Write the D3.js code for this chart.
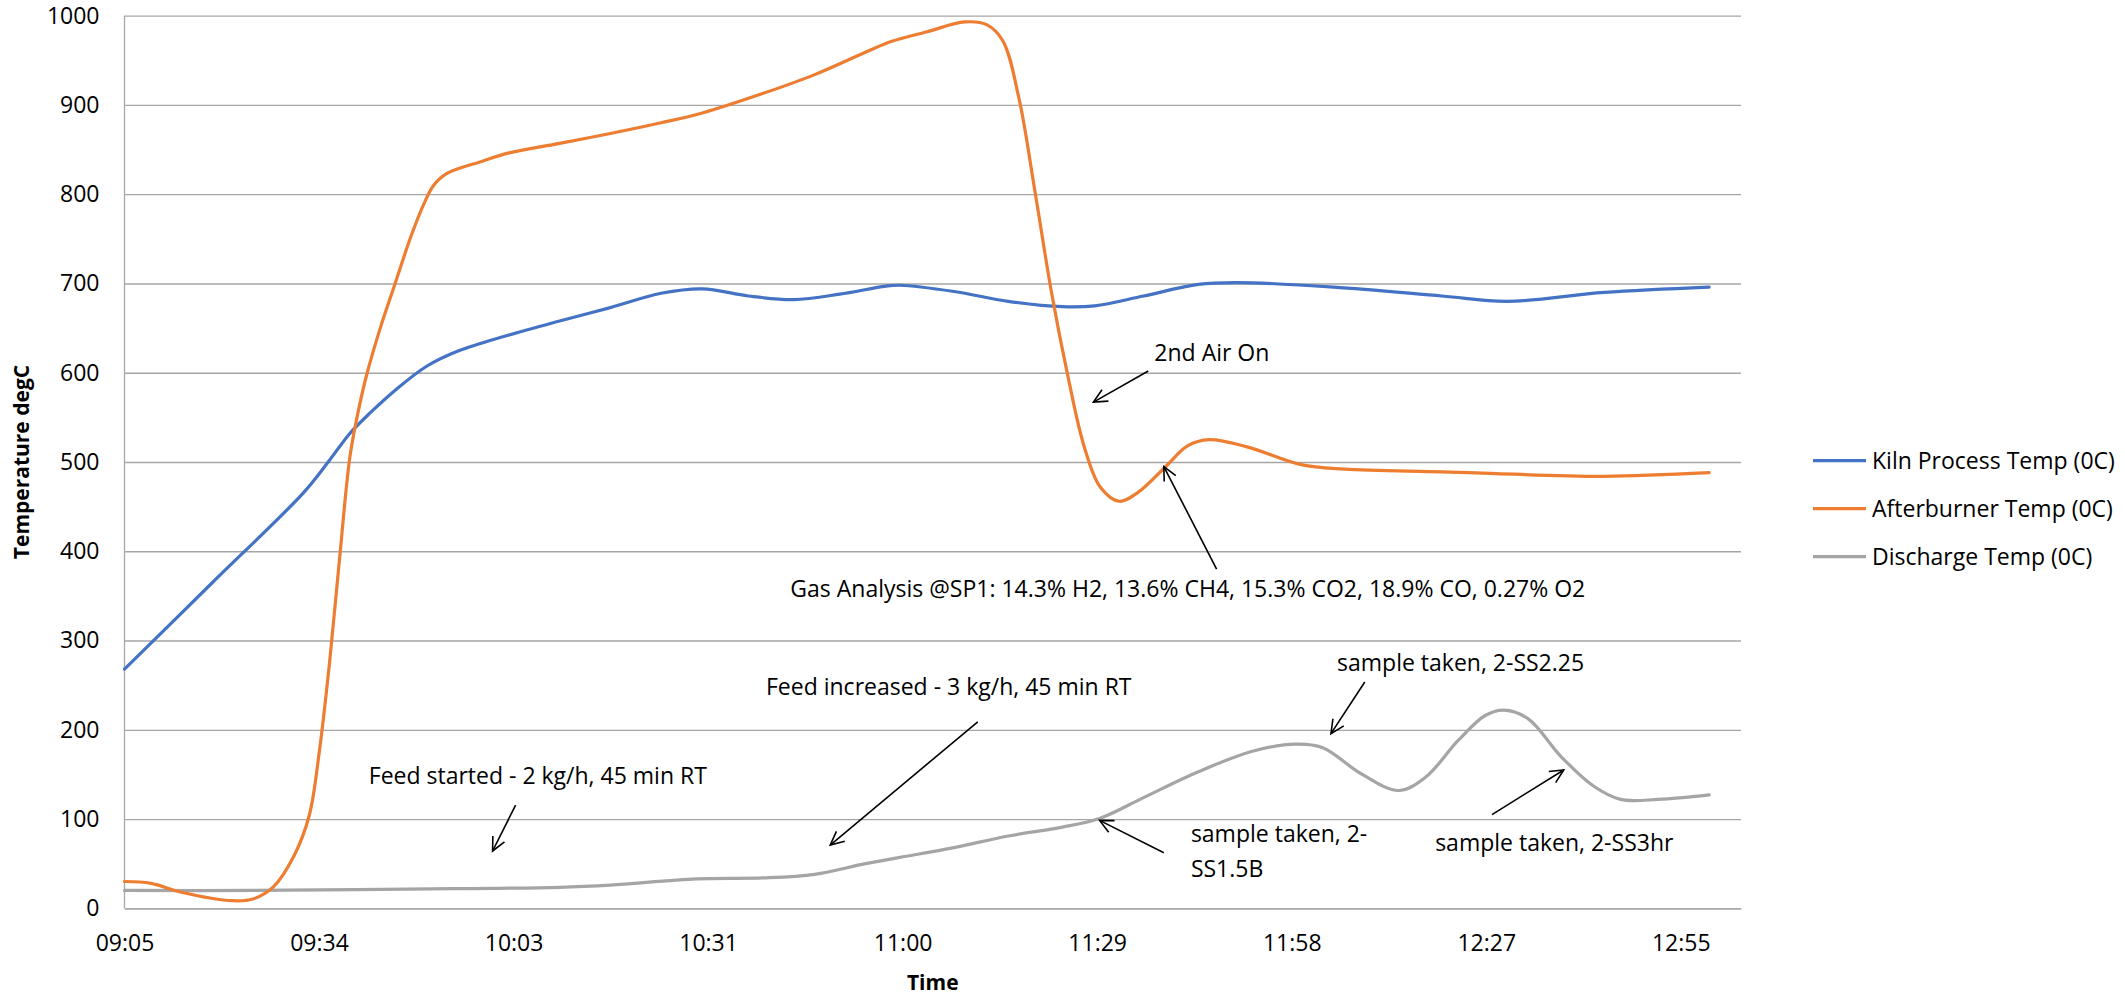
<!DOCTYPE html>
<html>
<head>
<meta charset="utf-8">
<script src="https://cdn.jsdelivr.net/npm/d3@7"></script>
<style>
  html, body { margin: 0; padding: 0; background: #fff; }
  svg { display: block; font-family: "Open Sans", "Noto Sans", sans-serif; }
</style>
</head>
<body>
<svg id="chart" width="2125" height="996"></svg>
<script>
// Elapsed minutes after 09:05 for each reading, and the temperature (degC)
const kilnMinutes = [0, 13, 26.5, 30.3, 33.3, 36.3, 40.1, 44.6, 49.2, 56.7, 64.3, 71.8, 79.3, 85.4, 92.2, 98.9, 105.7, 112.5, 114.6, 122.6, 130.6, 138.6, 143.4, 150.6, 158.7, 164.3, 178.7, 194.7, 204.3, 218.7, 234.2];
const kilnTemp    = [268, 365, 466, 502, 532, 555, 581, 607, 624, 642, 658, 673, 689, 694, 686, 682, 688, 697, 698, 691, 680, 674, 675, 686, 699, 701, 696, 686, 680, 690, 696];

const afterburnerMinutes = [0, 3.9, 8.4, 16, 19, 22, 25, 27.3, 28.8, 30.3, 31.8, 33.3, 34.5, 35.8, 37.8, 40, 42.3, 44.3, 45.7, 47.6, 52.9, 56.7, 64.3, 71.8, 79.3, 85.4, 94.4, 102, 109.5, 113.3, 118.6, 124.2, 127.4, 129.8, 132.2, 134.6, 137, 139.4, 141.8, 144.2, 147, 149.8, 153.9, 157.1, 160.3, 165.9, 173.9, 180.3, 194.7, 202.7, 218.7, 234.2];
const afterburnerTemp    = [30, 28, 18, 8.5, 10.5, 24, 58, 104, 176, 275, 393, 505, 555, 598, 650, 700, 752, 790, 810, 823, 837, 846, 857, 868, 880, 891, 913, 934, 959, 971, 982, 993, 990, 972, 907, 801, 690, 597, 518, 472, 456, 466, 495, 518, 525, 517, 497, 492, 489, 487, 484, 488];

const dischargeMinutes = [0, 19, 41.6, 64.3, 71.8, 84.6, 94.4, 102, 109.5, 114.6, 122.6, 130.6, 138.6, 144.2, 150.6, 158.7, 166.7, 173.1, 177.1, 182.7, 188.3, 192.3, 197.1, 201.1, 203.9, 207.5, 212.3, 217.1, 221.1, 226.7, 234.2];
const dischargeTemp    = [20, 20, 21.5, 23.5, 26, 33, 34, 38, 50, 57, 68, 81, 91, 101, 124, 153, 176, 184, 180, 151, 132, 147, 188, 216, 222, 212, 170, 137, 122, 122, 127];

const seriesNames  = ["Kiln Process Temp (0C)", "Afterburner Temp (0C)", "Discharge Temp (0C)"];
const seriesColors = ["#4472C4", "#ED7D31", "#A5A5A5"];

// Category labels on the time axis (one label every 28.75 minutes of run time)
const timeLabels = ["09:05", "09:34", "10:03", "10:31", "11:00", "11:29", "11:58", "12:27", "12:55"];
const labelStep = 28.75;
const axisEndMinutes = 238.9;

const tempTicks = [0, 100, 200, 300, 400, 500, 600, 700, 800, 900, 1000];

// Notes placed on the chart, in (minutes, degC) coordinates
const noteTexts = [
  ["2nd Air On"],
  ["Gas Analysis @SP1: 14.3% H2, 13.6% CH4, 15.3% CO2, 18.9% CO, 0.27% O2"],
  ["sample taken, 2-SS2.25"],
  ["sample taken, 2-", "SS1.5B"],
  ["sample taken, 2-SS3hr"],
  ["Feed increased - 3 kg/h, 45 min RT"],
  ["Feed started - 2 kg/h, 45 min RT"]
];
const noteAnchor = [[152.2, 613.2], [98.4, 348.3], [179.2, 266.1], [157.6, 74.3], [193.7, 64.2], [94.8, 238.5], [36.1, 139.8]];
const arrowFrom  = [[151.3, 602], [161.4, 380.1], [183.3, 253.5], [153.6, 62.3], [202.1, 105], [126.1, 208.9], [57.8, 115.5]];
const arrowTo    = [[143.2, 567.1], [153.6, 494.9], [178.3, 195.7], [144.1, 98.5], [212.7, 155], [104.3, 70.9], [54.4, 64.2]];

// ---- layout ----
const plot = { left: 124.5, right: 1741, top: 15.7, bottom: 908.3 };
const svg = d3.select("#chart");
svg.append("rect").attr("width", 2125).attr("height", 996).attr("fill", "#fff");

const x = d3.scaleLinear().domain([0, axisEndMinutes]).range([plot.left, plot.right]);
const y = d3.scaleLinear().domain([0, 1000]).range([plot.bottom, plot.top]);

const gridColor = "#a6a6a6";
const fontSize = 23;

// horizontal gridlines + value labels
const yAxis = svg.append("g")
  .attr("transform", `translate(${plot.left},0)`)
  .call(d3.axisLeft(y).tickValues(tempTicks).tickSize(-(plot.right - plot.left)).tickPadding(25).tickFormat(d3.format("d")));
yAxis.select(".domain").remove();
yAxis.selectAll(".tick line").attr("stroke", gridColor).attr("stroke-width", 1.3);
yAxis.selectAll(".tick text").attr("font-size", fontSize).attr("fill", "#000").attr("font-family", "'Open Sans', sans-serif");

// vertical axis line
svg.append("line")
  .attr("x1", plot.left).attr("x2", plot.left)
  .attr("y1", plot.top).attr("y2", plot.bottom)
  .attr("stroke", gridColor).attr("stroke-width", 1.3);

// time axis
const xAxis = svg.append("g")
  .attr("transform", `translate(0,${plot.bottom})`)
  .call(d3.axisBottom(x)
    .tickValues(timeLabels.map((_, i) => i * labelStep))
    .tickSize(0).tickPadding(26)
    .tickFormat((d, i) => timeLabels[i]));
xAxis.select(".domain").attr("stroke", gridColor).attr("stroke-width", 1.3);
xAxis.selectAll(".tick text").attr("font-size", fontSize).attr("fill", "#000").attr("font-family", "'Open Sans', sans-serif");

// axis titles
svg.append("text")
  .attr("x", (plot.left + plot.right) / 2).attr("y", 990)
  .attr("text-anchor", "middle").attr("font-size", 21).attr("font-weight", "bold")
  .text("Time");
svg.append("text")
  .attr("transform", `translate(29,${(plot.top + plot.bottom) / 2}) rotate(-90)`)
  .attr("text-anchor", "middle").attr("font-size", 21).attr("font-weight", "bold")
  .text("Temperature degC");

// series lines, smoothed
const series = [
  { t: kilnMinutes, v: kilnTemp },
  { t: afterburnerMinutes, v: afterburnerTemp },
  { t: dischargeMinutes, v: dischargeTemp }
];
const line = d3.line()
  .x(d => x(d[0]))
  .y(d => y(d[1]))
  .curve(d3.curveCatmullRom.alpha(0.5));

// draw grey first so blue and orange sit on top
[2, 0, 1].forEach(i => {
  const pts = series[i].t.map((t, k) => [t, series[i].v[k]]);
  svg.append("path")
    .attr("d", line(pts))
    .attr("fill", "none")
    .attr("stroke", seriesColors[i])
    .attr("stroke-width", 3.2)
    .attr("stroke-linejoin", "round")
    .attr("stroke-linecap", "round");
});

// notes with open-headed arrows
function arrow(p0, p1) {
  const x0 = x(p0[0]), y0 = y(p0[1]), x1 = x(p1[0]), y1 = y(p1[1]);
  const ang = Math.atan2(y1 - y0, x1 - x0);
  const head = 15, spread = Math.PI / 7;
  const g = svg.append("g").attr("stroke", "#000").attr("stroke-width", 1.6).attr("fill", "none");
  g.append("line").attr("x1", x0).attr("y1", y0).attr("x2", x1).attr("y2", y1);
  g.append("path").attr("d",
    `M${x1 - head * Math.cos(ang - spread)},${y1 - head * Math.sin(ang - spread)}` +
    `L${x1},${y1}` +
    `L${x1 - head * Math.cos(ang + spread)},${y1 - head * Math.sin(ang + spread)}`);
}

noteTexts.forEach((lines, i) => {
  const t = svg.append("text")
    .attr("x", x(noteAnchor[i][0])).attr("y", y(noteAnchor[i][1]))
    .attr("font-size", fontSize).attr("fill", "#000");
  lines.forEach((s, k) => {
    t.append("tspan").attr("x", x(noteAnchor[i][0])).attr("dy", k === 0 ? 0 : 35.3).text(s);
  });
  arrow(arrowFrom[i], arrowTo[i]);
});

// legend
const legend = svg.append("g").attr("transform", "translate(1813,460.7)");
seriesNames.forEach((name, i) => {
  const row = legend.append("g").attr("transform", `translate(0,${i * 48})`);
  row.append("line").attr("x1", 0).attr("x2", 53).attr("y1", 0).attr("y2", 0)
    .attr("stroke", seriesColors[i]).attr("stroke-width", 3.2);
  row.append("text").attr("x", 59).attr("y", 0).attr("dy", "0.35em")
    .attr("font-size", fontSize).attr("fill", "#000").text(name);
});
</script>
</body>
</html>
